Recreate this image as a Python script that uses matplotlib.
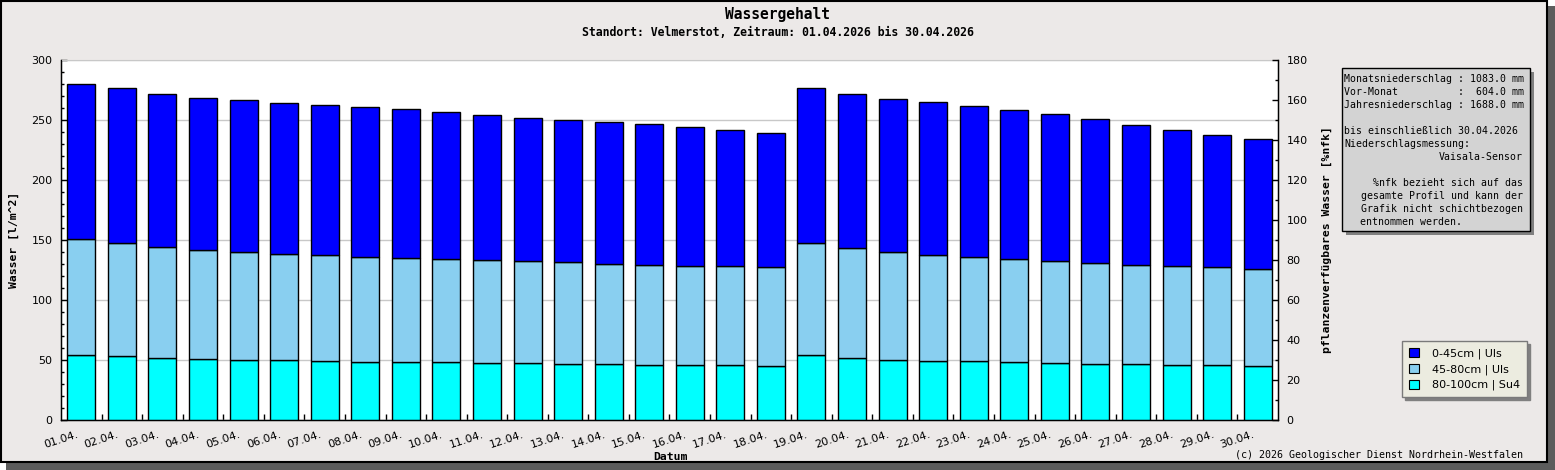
import numpy as np
import matplotlib.pyplot as plt
import matplotlib.transforms as mtransforms
from matplotlib.patches import Rectangle, Patch
from matplotlib.ticker import MultipleLocator, FixedLocator

# Daten (Schichten in l/m^2)
dates = [f"{d:02d}.04." for d in range(1, 31)]
layer_80_100 = [53.9, 53.0, 51.4, 50.6, 49.7, 49.7, 48.9, 48.0, 48.0, 48.0,
                47.2, 47.2, 46.4, 46.4, 45.6, 45.6, 45.6, 44.7, 53.9, 51.4,
                49.7, 48.9, 48.9, 48.0, 47.2, 46.4, 46.4, 45.6, 45.6, 44.7]
layer_45_80 = [96.6, 94.2, 92.5, 90.8, 90.0, 88.3, 88.3, 87.6, 86.7, 85.9,
               85.8, 85.0, 85.0, 83.3, 83.3, 82.4, 82.4, 82.5, 93.3, 91.6,
               90.0, 88.3, 86.7, 85.9, 85.0, 84.1, 82.5, 82.4, 81.6, 80.9]
layer_0_45 = [129.2, 129.2, 127.5, 126.6, 127.0, 126.0, 125.0, 124.9, 124.3, 122.5,
              121.2, 119.5, 118.3, 118.6, 117.8, 116.2, 113.7, 112.0, 129.2, 128.7,
              127.8, 127.8, 126.1, 124.4, 122.8, 120.3, 116.9, 113.7, 110.3, 108.6]
layer_names = ["0-45cm | Uls", "45-80cm | Uls", "80-100cm | Su4"]
layer_colors = ["#0000FF", "#89CFF0", "#00FFFF"]

info_lines = [
    "Monatsniederschlag : 1083.0 mm",
    "Vor-Monat          :  604.0 mm",
    "Jahresniederschlag : 1688.0 mm",
    "",
    "bis einschließlich 30.04.2026",
    "Niederschlagsmessung:",
]
info_right = ["Vaisala-Sensor"]
note_lines = ["%nfk bezieht sich auf das", "gesamte Profil und kann der",
              "Grafik nicht schichtbezogen"]
note_last = "entnommen werden."

W, H = 1555, 470
BG = "#ECE9E8"
MONO = "DejaVu Sans Mono"

fig = plt.figure(figsize=(W / 100, H / 100), dpi=100)
fig.patch.set_facecolor("white")

# Rahmen mit Schatten (hinter den Achsen)
fig.patches.append(Rectangle((6 / W, 0), 1 - 6 / W, 1 - 6 / H, transform=fig.transFigure,
                             facecolor="#5c5c5c", edgecolor="none", zorder=-3))
fig.patches.append(Rectangle((1 / W, 8 / H), 1546 / W, 461 / H, transform=fig.transFigure,
                             facecolor=BG, edgecolor="black", linewidth=1.5, zorder=-2))

ax = fig.add_axes([61 / W, 1 - 420 / H, (1278 - 61) / W, 360 / H])
ax.set_facecolor("white")

x = np.arange(len(dates))
b3 = np.array(layer_80_100)
b2 = np.array(layer_45_80)
b1 = np.array(layer_0_45)
w = 0.69
ax.bar(x, b3, width=w, color=layer_colors[2], edgecolor="black", linewidth=1, zorder=3)
ax.bar(x, b2, width=w, bottom=b3, color=layer_colors[1], edgecolor="black", linewidth=1, zorder=3)
ax.bar(x, b1, width=w, bottom=b3 + b2, color=layer_colors[0], edgecolor="black", linewidth=1, zorder=3)

ax.set_xlim(-0.5, 29.5)
ax.set_ylim(0, 300)
ax.yaxis.set_major_locator(MultipleLocator(50))
ax.yaxis.set_minor_locator(MultipleLocator(10))
ax.grid(axis="y", which="major", color="#c8c8c8", linewidth=1, zorder=0)
ax.tick_params(axis="y", which="major", direction="in", length=4, width=1, labelsize=8, pad=6)
ax.tick_params(axis="y", which="minor", direction="in", length=2, width=1)
ax.set_xticks(x)
ax.set_xticklabels(dates, rotation=18, ha="right", rotation_mode="anchor")
ax.xaxis.set_minor_locator(FixedLocator(x[:-1] + 0.5))
ax.tick_params(axis="x", which="major", length=0, labelsize=8, pad=6)
ax.tick_params(axis="x", which="minor", direction="in", length=4.5, width=1)
shift = mtransforms.ScaledTranslation(-5 / 100, -1 / 100, fig.dpi_scale_trans)
for lbl in ax.get_xticklabels():
    lbl.set_transform(lbl.get_transform() + shift)
ax.spines["top"].set_color("#c8c8c8")
for s in ["left", "right", "bottom"]:
    ax.spines[s].set_linewidth(1)

ax2 = ax.twinx()
ax2.set_ylim(0, 180)
ax2.yaxis.set_major_locator(MultipleLocator(20))
ax2.yaxis.set_minor_locator(MultipleLocator(10))
ax2.tick_params(axis="y", which="major", direction="in", length=4, width=1, labelsize=8, pad=6)
ax2.tick_params(axis="y", which="minor", direction="in", length=2, width=1)
ax2.spines["top"].set_visible(False)

# Titel und Achsenbeschriftungen
fig.text(0.5, 1 - 14 / H, "Wassergehalt", ha="center", va="center",
         family=MONO, fontweight="bold", fontsize=10.5)
fig.text(0.5, 1 - 33 / H, "Standort: Velmerstot, Zeitraum: 01.04.2026 bis 30.04.2026",
         ha="center", va="center", family=MONO, fontweight="bold", fontsize=8.3)
fig.text(14 / W, 1 - 240 / H, "Wasser [l/m^2]", rotation=90, ha="center", va="center",
         family=MONO, fontweight="bold", fontsize=8.2)
fig.text(1327 / W, 1 - 240 / H, "pflanzenverfügbares Wasser [%nfk]", rotation=90,
         ha="center", va="center", family=MONO, fontweight="bold", fontsize=8.2)
fig.text(670 / W, 1 - 457 / H, "Datum", ha="center", va="center",
         family=MONO, fontweight="bold", fontsize=8.2)
fig.text(1523 / W, 1 - 455 / H, "(c) 2026 Geologischer Dienst Nordrhein-Westfalen",
         ha="right", va="center", family=MONO, fontsize=7.2)

# Infobox
bx0, by0, bx1, by1 = 1342, 68, 1530, 231
fig.patches.append(Rectangle(((bx0 + 4) / W, 1 - (by1 + 4) / H), (bx1 - bx0) / W, (by1 - by0) / H,
                             transform=fig.transFigure, facecolor="#808080", edgecolor="none", zorder=1))
fig.patches.append(Rectangle((bx0 / W, 1 - by1 / H), (bx1 - bx0) / W, (by1 - by0) / H,
                             transform=fig.transFigure, facecolor="#D3D3D3", edgecolor="black",
                             linewidth=1, zorder=2))
step = 12.95
y0 = 79.3
fs = 7.1
for i, line in enumerate(info_lines):
    fig.text(1344 / W, 1 - (y0 + i * step) / H, line, ha="left", va="center",
             family=MONO, fontsize=fs, zorder=3)
fig.text(1523 / W, 1 - (y0 + 6 * step) / H, info_right[0], ha="right", va="center",
         family=MONO, fontsize=fs, zorder=3)
for i, line in enumerate(note_lines):
    fig.text(1523 / W, 1 - (y0 + (8 + i) * step) / H, line, ha="right", va="center",
             family=MONO, fontsize=fs, zorder=3)
fig.text(1360 / W, 1 - (y0 + 11 * step) / H, note_last, ha="left", va="center",
         family=MONO, fontsize=fs, zorder=3)

# Legende
handles = [Patch(facecolor=c, edgecolor="black", linewidth=0.8) for c in layer_colors]
leg = fig.legend(handles, layer_names, loc="upper left",
                 bbox_to_anchor=(1402 / W, 1 - 341 / H), fontsize=8,
                 frameon=True, fancybox=False, shadow={"color": "#808080", "alpha": 1},
                 handlelength=0.9, handleheight=0.9, handletextpad=1.2,
                 labelspacing=0.45, borderpad=0.6, borderaxespad=0)
leg.get_frame().set_facecolor("#ECECE0")
leg.get_frame().set_edgecolor("#7a7a7a")
leg.get_frame().set_alpha(1)

fig.savefig("out.png", dpi=100, facecolor=fig.get_facecolor())
